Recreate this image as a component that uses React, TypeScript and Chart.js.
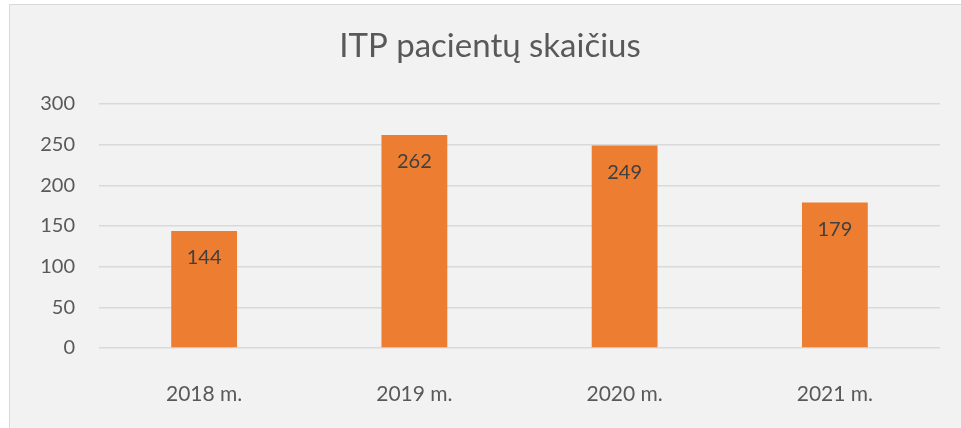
import React, { useEffect, useRef } from "react";
import { Chart, registerables } from "chart.js";

Chart.register(...registerables);

const TITLE = "ITP pacientų skaičius";
const CATEGORIES = ["2018 m.", "2019 m.", "2020 m.", "2021 m."];
const VALUES = [144, 262, 249, 179];
const Y_MIN = 0;
const Y_MAX = 300;
const Y_STEP = 50;

const FONT = "Lato, 'Open Sans', sans-serif";

const valueLabels = {
  id: "valueLabels",
  afterDatasetsDraw(chart: any) {
    const ctx = chart.ctx;
    const meta = chart.getDatasetMeta(0);
    ctx.save();
    ctx.font = `20px ${FONT}`;
    ctx.fillStyle = "#404040";
    ctx.textAlign = "center";
    ctx.textBaseline = "middle";
    meta.data.forEach((bar: any, i: number) => {
      const v = chart.data.datasets[0].data[i];
      ctx.fillText(String(v), bar.x, bar.y + 27);
    });
    ctx.restore();
  },
};

export default function App() {
  const ref = useRef<HTMLCanvasElement | null>(null);

  useEffect(() => {
    document.body.style.margin = "0";
    const chart = new Chart(ref.current as HTMLCanvasElement, {
      type: "bar",
      data: {
        labels: CATEGORIES,
        datasets: [
          {
            data: VALUES,
            backgroundColor: "#ED7D31",
            barPercentage: 0.313,
            categoryPercentage: 1,
          },
        ],
      },
      options: {
        animation: false,
        responsive: false,
        layout: { padding: { left: 40, right: 21, top: 0, bottom: 0 } },
        plugins: {
          legend: { display: false },
          tooltip: { enabled: false },
          title: {
            display: true,
            text: TITLE,
            color: "#595959",
            font: { family: FONT, size: 33, weight: "normal" },
            padding: { top: 27, bottom: 37.4 },
          },
        },
        scales: {
          x: {
            grid: { display: false },
            border: { display: false },
            ticks: {
              color: "#595959",
              font: { family: FONT, size: 21 },
              padding: 26,
            },
            afterFit(scale: any) {
              scale.height = 80;
            },
          },
          y: {
            min: Y_MIN,
            max: Y_MAX,
            grid: { color: "#d9d9d9", lineWidth: 1.5, drawTicks: false },
            border: { display: false },
            ticks: {
              stepSize: Y_STEP,
              color: "#595959",
              font: { family: FONT, size: 20 },
              padding: 24,
            },
            afterFit(scale: any) {
              scale.width = 59;
            },
          },
        },
      },
      plugins: [valueLabels],
    });
    return () => chart.destroy();
  }, []);

  return (
    <div style={{ position: "relative", width: 961, height: 428, overflow: "hidden" }}>
      <div
        style={{
          position: "absolute",
          left: 9,
          top: 4,
          width: 960,
          height: 430,
          background: "#f2f2f2",
          borderLeft: "1px solid #d9d9d9",
          borderTop: "1px solid #d9d9d9",
        }}
      />
      <canvas
        ref={ref}
        width={961}
        height={428}
        style={{ position: "absolute", left: 0, top: 0, width: 961, height: 428 }}
      />
    </div>
  );
}
